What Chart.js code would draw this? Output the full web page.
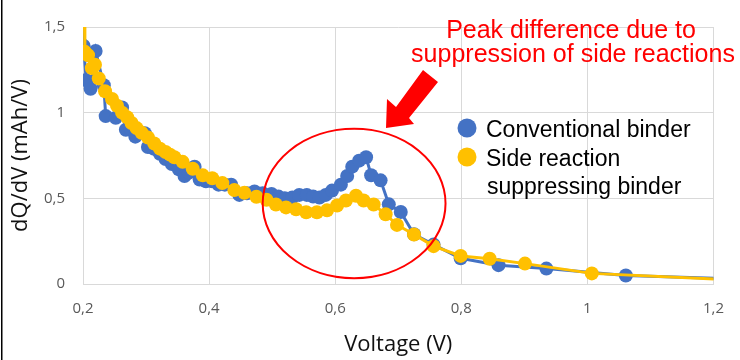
<!DOCTYPE html>
<html>
<head>
<meta charset="utf-8">
<script src="https://cdn.jsdelivr.net/npm/chart.js@4/dist/chart.umd.min.js"></script>
<style>
  html, body { margin: 0; padding: 0; background: #fff; }
  #wrap { width: 740px; height: 360px; position: relative; }
</style>
</head>
<body>
<div id="wrap"><canvas id="c" width="740" height="360"></canvas></div>
<script>
// ---- data ----
const voltageConv = [0.201,0.201,0.205,0.212,0.220,0.233,0.236,0.252,0.262,0.268,0.275,0.283,0.298,0.303,0.312,0.322,0.331,0.341,0.352,0.361,0.368,0.377,0.385,0.395,0.405,0.415,0.425,0.435,0.448,0.460,0.472,0.485,0.499,0.510,0.520,0.532,0.543,0.555,0.565,0.575,0.585,0.595,0.609,0.619,0.627,0.638,0.649,0.657,0.672,0.685,0.704,0.725,0.756,0.799,0.859,0.935,1.061,1.300];
const dqdvConv    = [1.60,1.39,1.19,1.14,1.36,1.16,0.98,0.97,1.03,0.90,0.91,0.86,0.88,0.80,0.79,0.76,0.73,0.70,0.67,0.63,0.65,0.685,0.61,0.60,0.60,0.58,0.58,0.58,0.52,0.53,0.54,0.53,0.525,0.51,0.50,0.505,0.52,0.52,0.51,0.505,0.52,0.545,0.58,0.63,0.685,0.72,0.74,0.635,0.605,0.465,0.42,0.29,0.23,0.15,0.11,0.09,0.05,0.022];
const voltageSide = [0.202,0.203,0.208,0.214,0.219,0.225,0.235,0.246,0.254,0.262,0.270,0.277,0.285,0.293,0.303,0.313,0.322,0.331,0.338,0.345,0.358,0.374,0.390,0.405,0.421,0.440,0.456,0.475,0.491,0.506,0.522,0.538,0.554,0.571,0.587,0.603,0.617,0.633,0.645,0.661,0.680,0.698,0.725,0.756,0.799,0.845,0.901,1.007,1.300];
const dqdvSide    = [1.60,1.355,1.335,1.26,1.28,1.20,1.125,1.08,1.04,1.00,0.973,0.94,0.91,0.883,0.855,0.82,0.79,0.77,0.755,0.74,0.713,0.673,0.634,0.617,0.589,0.549,0.532,0.509,0.492,0.464,0.447,0.436,0.419,0.419,0.43,0.458,0.487,0.515,0.487,0.464,0.407,0.345,0.289,0.221,0.164,0.147,0.119,0.062,0.012];
const seriesNames = ['Conventional binder', 'Side reaction suppressing binder'];
const legendLines = [['Conventional binder'], ['Side reaction', 'suppressing binder']];
const xTickLabels = ['0,2','0,4','0,6','0,8','1','1,2'];
const yTickLabels = ['0','0,5','1','1,5'];
const xTickValues = [0.2,0.4,0.6,0.8,1.0,1.2];
const yTickValues = [0,0.5,1.0,1.5];
const noteLines = ['Peak difference due to', 'suppression of side reactions'];
const xTitle = 'Voltage (V)';
const yTitle = 'dQ/dV (mAh/V)';

const BLUE = '#4472C4', GOLD = '#FFC000', RED = '#FF0000';

function pts(xs, ys) { return xs.map((x, i) => ({x: x, y: ys[i]})); }

const decor = {
  id: 'decor',
  afterDraw(chart) {
    const ctx = chart.ctx;
    const xs = chart.scales.x, ys = chart.scales.y;
    ctx.save();
    // left frame line
    ctx.fillStyle = '#000';
    ctx.fillRect(1, 0, 1.5, 360);

    // ellipse around the peak region
    const cx = xs.getPixelForValue(0.63), cy = ys.getPixelForValue(0.47);
    const rx = xs.getPixelForValue(0.775) - cx;
    const ry = cy - ys.getPixelForValue(0.906);
    ctx.strokeStyle = RED; ctx.lineWidth = 2;
    ctx.beginPath(); ctx.ellipse(cx, cy, rx, ry, 0, 0, Math.PI * 2); ctx.stroke();

    // arrow
    ctx.fillStyle = RED;
    ctx.beginPath();
    ctx.moveTo(386, 128);
    ctx.lineTo(387, 99);
    ctx.lineTo(396, 107);
    ctx.lineTo(423, 70);
    ctx.lineTo(438, 82);
    ctx.lineTo(409, 118);
    ctx.lineTo(414, 124);
    ctx.closePath(); ctx.fill();

    // annotation text
    ctx.font = '25px "Liberation Sans", Arial, sans-serif';
    ctx.textAlign = 'center'; ctx.textBaseline = 'alphabetic';
    ctx.fillStyle = RED;
    ctx.fillText(noteLines[0], 571, 38);
    ctx.fillText(noteLines[1], 573, 62);

    // legend
    const colors = [BLUE, GOLD];
    const rowY = [128, 157];
    ctx.font = '23px "Liberation Sans", Arial, sans-serif';
    ctx.textAlign = 'left';
    let baseline = 137;
    legendLines.forEach((lines, i) => {
      ctx.fillStyle = colors[i];
      ctx.beginPath(); ctx.arc(467, rowY[i], 9.5, 0, Math.PI * 2); ctx.fill();
      ctx.fillStyle = '#000';
      lines.forEach((t, j) => {
        ctx.fillText(t, j === 0 ? 486 : 487, baseline);
        baseline += 28.5;
      });
    });
    ctx.restore();
  }
};

new Chart(document.getElementById('c'), {
  type: 'line',
  data: {
    datasets: [
      { label: seriesNames[0], data: pts(voltageConv, dqdvConv), borderColor: BLUE, backgroundColor: BLUE,
        borderWidth: 3, pointRadius: 7, pointBorderWidth: 0, pointHoverRadius: 7, tension: 0, order: 2 },
      { label: seriesNames[1], data: pts(voltageSide, dqdvSide), borderColor: GOLD, backgroundColor: GOLD,
        borderWidth: 3, pointRadius: 7, pointBorderWidth: 0, pointHoverRadius: 7, tension: 0, order: 1 }
    ]
  },
  options: {
    responsive: false,
    animation: false,
    events: [],
    layout: { padding: { left: 0, right: 24, top: 19, bottom: 0 } },
    plugins: { legend: { display: false }, tooltip: { enabled: false } },
    scales: {
      x: {
        type: 'linear', min: 0.2, max: 1.2,
        afterFit: s => { s.height = 76; },
        afterBuildTicks: s => { s.ticks = xTickValues.map(v => ({value: v})); },
        ticks: { padding: 16, color: '#595959', font: { family: 'Open Sans', size: 15 },
                 callback: (v, i) => xTickLabels[i] },
        grid: { color: '#D9D9D9', lineWidth: 1, drawTicks: false },
        border: { color: '#D9D9D9' },
        title: { display: true, text: xTitle, color: '#111', font: { family: 'Open Sans', size: 22 },
                 padding: { top: 0, bottom: 2 } }
      },
      y: {
        type: 'linear', min: 0, max: 1.5,
        afterFit: s => { s.width = 83; },
        afterBuildTicks: s => { s.ticks = yTickValues.map(v => ({value: v})); },
        ticks: { padding: 18, color: '#595959', font: { family: 'Open Sans', size: 15 },
                 callback: (v, i) => yTickLabels[i] },
        grid: { color: '#D9D9D9', lineWidth: 1, drawTicks: false },
        border: { color: '#D9D9D9' },
        title: { display: true, text: yTitle, color: '#111', font: { family: 'Open Sans', size: 22 },
                 padding: { top: 8, bottom: 0 } }
      }
    }
  },
  plugins: [decor]
});
</script>
</body>
</html>
